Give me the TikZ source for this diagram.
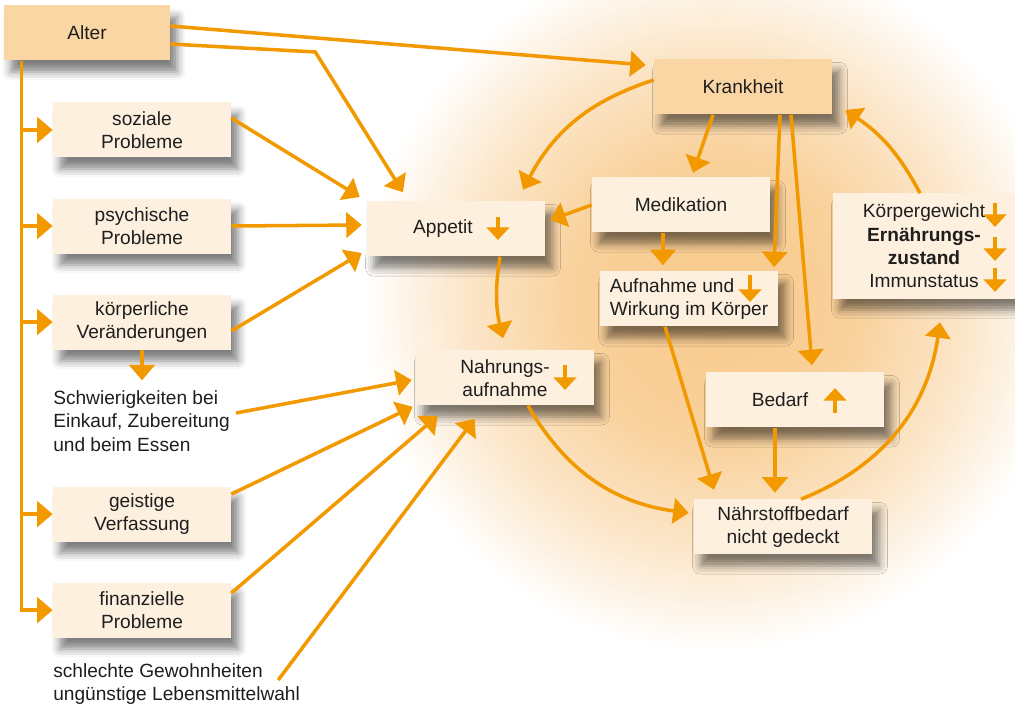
\documentclass[tikz,border=0pt]{standalone}
\usepackage{fontspec}
\setmainfont{Liberation Sans}
\usetikzlibrary{arrows.meta,calc,shadows.blur}

\definecolor{orangeline}{RGB}{242,153,0}
\definecolor{boxlight}{RGB}{254,240,223}
\definecolor{boxdark}{RGB}{251,214,165}
\definecolor{glow}{RGB}{248,201,138}
\definecolor{textgray}{RGB}{30,30,30}

\pgfdeclareradialshading{glowshade}{\pgfpoint{0bp}{0bp}}{color(0bp)=(glow); color(10bp)=(glow!85!white); color(18bp)=(glow!45!white); color(25bp)=(white); color(50bp)=(white)}

\tikzstyle{cause} = [rectangle, fill=boxlight, text=textgray, minimum width=4.45cm,
  minimum height=1.375cm, align=center, inner sep=2pt,
  blur shadow={shadow xshift=5pt, shadow yshift=-8pt, shadow blur radius=6pt, shadow opacity=50}]
\tikzstyle{hub} = [cause, fill=boxdark]
\tikzstyle{plain} = [text=textgray, inner sep=0pt, align=left]
\tikzstyle{line} = [draw=orangeline, line width=2.5pt, -{Triangle[length=11pt,width=18pt]}]
\tikzstyle{trend} = [draw=orangeline, line width=2.3pt, -{Triangle[length=9pt,width=16pt]}]

\begin{document}
\begin{tikzpicture}[x=0.025cm, y=0.025cm, font=\fontsize{13.6}{16.6}\selectfont]
    \useasboundingbox (0,0) rectangle (1015,709);
    \begin{scope}
      \clip (0,0) rectangle (1015,709);
      \shade[shading=glowshade] (715,409) circle [radius=8.8cm];
    \end{scope}

    % left column
    \node[hub, minimum width=4.15cm] (alter) at (87,676) {Alter};
    \node[cause] (soziale) at (142,579) {soziale\\Probleme};
    \node[cause, below of=soziale, node distance=2.4cm] (psychisch) {psychische\\Probleme};
    \node[cause, below of=psychisch, node distance=2.4cm] (koerperlich) {körperliche\\Veränderungen};
    \node[plain, anchor=west] (schwierig) at (53,288) {Schwierigkeiten bei\\Einkauf, Zubereitung\\und beim Essen};
    \node[cause, below of=koerperlich, node distance=4.8cm] (geistig) {geistige\\Verfassung};
    \node[cause, below of=geistig, node distance=2.4cm] (finanziell) {finanzielle\\Probleme};
    \node[plain, anchor=west] (gewohn) at (53,25) {schlechte Gewohnheiten\\ungünstige Lebensmittelwahl};

    % cycle
    \node[cause] (appetit) at (456,480) {Appetit\hspace*{0.65cm}};
    \node[cause] (nahrung) at (505,331) {Nahrungs-\\aufnahme};
    \node[hub] (krankheit) at (743,622) {Krankheit};
    \node[cause] (medikation) at (681,504) {Medikation};
    \node[cause, align=left] (aufnahme) at (689,410) {Aufnahme und\\Wirkung im Körper};
    \node[cause, minimum width=4.55cm, minimum height=2.625cm] (status) at (924,463)
      {Körpergewicht\\\textbf{Ernährungs-}\\\textbf{zustand}\\Immunstatus};
    \node[cause] (bedarf) at (795,309) {Bedarf\hspace*{0.75cm}};
    \node[cause] (defizit) at (783,182) {Nährstoffbedarf\\nicht gedeckt};

    % Alter
    \coordinate (spine) at ($(alter.south west)+(18,0)$);
    \path[line] (spine) |- (finanziell.west);
    \foreach \n in {soziale,psychisch,koerperlich,geistig}
      \path[line] (spine |- \n.west) -- (\n.west);
    \path[line] ($(alter.east)+(0,7)$) -- ($(krankheit.west)+(-8,22)$);
    \path[line] ($(alter.east)+(0,-11)$) -- ++(145,-8) -- ($(appetit.north)+(-53,9)$);

    % into Appetit / Nahrungsaufnahme
    \path[line] ($(soziale.east)+(0,12)$) -- ($(appetit.west)+(-7,32)$);
    \path[line] (psychisch.east) -- ($(appetit.west)+(-5,4)$);
    \path[line] ($(koerperlich.east)+(0,-9)$) -- ($(appetit.west)+(-5,-24)$);
    \path[line, shorten >=0.25cm] (koerperlich.south) -- (koerperlich.south |- schwierig.north);
    \path[line] ($(schwierig.east)+(6,8)$) -- ($(nahrung.west)+(-4,-2)$);
    \path[line] ($(geistig.east)+(0,20)$) -- ($(nahrung.south west)+(-3,-1)$);
    \path[line] ($(finanziell.east)+(0,17)$) -- ($(nahrung.south west)+(22,-10)$);
    \path[line] ($(gewohn.east)+(-22,4)$) -- ($(nahrung.south west)+(59,-13)$);
    \path[line] ($(appetit.south)+(44,0)$) to[bend right=11] ($(nahrung.north)+(-2,12)$);

    % Krankheit and its effects
    \path[line] ($(krankheit.west)+(0,7)$) to[bend right=22] ($(appetit.north)+(67,11.5)$);
    \path[line] (medikation.west) -- ($(appetit.east)+(5,9)$);
    \path[line] ($(krankheit.south)+(-30,0)$) -- ($(medikation.north)+(12,4.5)$);
    \path[line] ($(krankheit.south)+(37,0)$) -- ($(aufnahme.north)+(85,4)$);
    \path[line] ($(krankheit.south)+(48,0)$) -- ($(bedarf.north)+(17,7)$);
    \path[line] ($(medikation.south)+(-18,0)$) -- ($(aufnahme.north)+(-26,6)$);
    \path[line] ($(aufnahme.south)+(-24,0)$) -- ($(defizit.north)+(-69,9.5)$);
    \path[line] ($(bedarf.south)+(-20,0)$) -- ($(defizit.north)+(-8,6.5)$);
    \path[line] ($(nahrung.south)+(23,0)$) to[bend right=26] ($(defizit.west)+(-5,14)$);
    \path[line] ($(defizit.north)+(18,0)$) to[bend right=30] ($(status.south)+(16,-23.5)$);
    \path[line] ($(status.north)+(-4,0)$) to[bend right=14] ($(krankheit.east)+(13,-23)$);

    % up / down marks
    \path[trend] ($(appetit)+(42,12)$) -- ++(0,-23);
    \path[trend] ($(nahrung)+(60,13)$) -- ++(0,-25);
    \path[trend] ($(aufnahme)+(61,24)$) -- ++(0,-27);
    \path[trend] ($(bedarf)+(40,-13)$) -- ++(0,25);
    \foreach \dy in {43,9,-22}
      \path[trend] ($(status)+(71,\dy)$) -- ++(0,-24);
\end{tikzpicture}
\end{document}
